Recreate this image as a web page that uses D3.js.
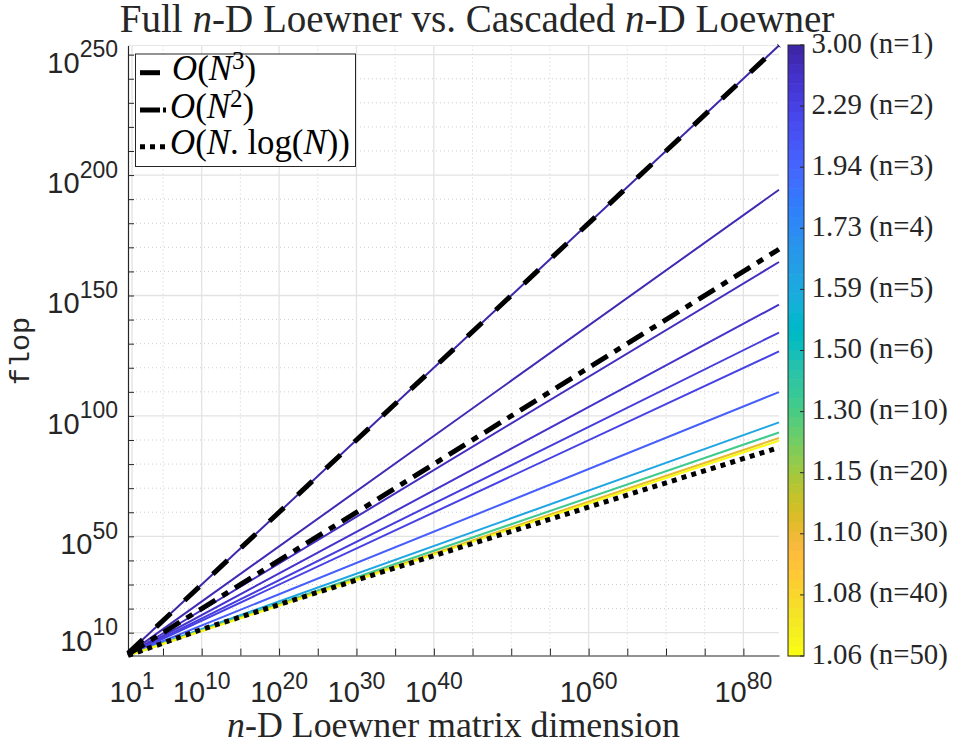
<!DOCTYPE html>
<html>
<head>
  <meta charset="utf-8">
  <script src="https://cdn.jsdelivr.net/npm/d3@7"></script>
  <style>
    body { margin: 0; background: #fff; }
    .tick-label { font-family: 'Liberation Sans', Arial, sans-serif; fill: #262626; }
    .serif { font-family: 'Liberation Serif', 'Times New Roman', serif; fill: #262626; }
  </style>
</head>
<body>
<div id="chart"></div>
<script>
  // ---- data ----
  var nValues = [1, 2, 3, 4, 5, 6, 10, 20, 30, 40, 50];
  var exponentLabels = ["3.00", "2.29", "1.94", "1.73", "1.59", "1.50", "1.30", "1.15", "1.10", "1.08", "1.06"];
  var dimRange = [3, 4e84];                 // matrix dimension N
  var flopRangeLog = [0.52, 253.8];         // log10 of flop, bottom / top
  // log10(flop) of each coloured line at the left (N=3) and right (N=4e84) end
  var startLog = [1.43, 1.09, 0.93, 0.83, 0.76, 0.72, 0.62, 0.55, 0.52, 0.51, 0.51];
  var endLog = [253.8, 193.9, 163.9, 146.2, 134.6, 126.8, 109.9, 97.3, 93.1, 90.8, 89.7];
  // reference curves as [log10 N, log10 flop]
  var cubeLog = [[0.477, 1.43], [84.6, 253.8]];
  var squareLog = [[0.477, 0.95], [84.6, 169.2]];
  var nlognLog = [[0.477, 0.52], [10, 11.36], [20, 21.66], [40, 41.96], [60, 62.14], [84.6, 86.89]];
  // ticks (exponents of ten)
  var xMajor = [1, 10, 20, 30, 40, 60, 80];
  var xMinor = [5, 15, 25, 35, 45, 50, 55, 65, 70, 75];
  var yMajor = [10, 50, 100, 150, 200, 250];
  var yMinor = [20, 30, 40, 60, 70, 80, 90, 110, 120, 130, 140, 160, 170, 180, 190, 210, 220, 230, 240];

  // MATLAB parula, 64 levels
  var parula = [[0.2422,0.1504,0.6603],[0.2504,0.1650,0.7076],[0.2578,0.1818,0.7511],[0.2647,0.1978,0.7952],[0.2706,0.2147,0.8364],[0.2751,0.2342,0.8710],[0.2783,0.2559,0.8991],[0.2803,0.2782,0.9221],[0.2813,0.3006,0.9414],[0.2810,0.3228,0.9579],[0.2795,0.3447,0.9717],[0.2760,0.3667,0.9829],[0.2699,0.3892,0.9906],[0.2602,0.4123,0.9952],[0.2440,0.4358,0.9988],[0.2206,0.4603,0.9973],[0.1963,0.4847,0.9892],[0.1834,0.5074,0.9798],[0.1786,0.5289,0.9682],[0.1764,0.5499,0.9520],[0.1687,0.5703,0.9359],[0.1540,0.5902,0.9218],[0.1460,0.6091,0.9079],[0.1380,0.6276,0.8973],[0.1248,0.6459,0.8883],[0.1113,0.6635,0.8763],[0.0952,0.6798,0.8598],[0.0689,0.6948,0.8394],[0.0297,0.7082,0.8163],[0.0036,0.7203,0.7917],[0.0067,0.7312,0.7660],[0.0433,0.7411,0.7394],[0.0964,0.7500,0.7120],[0.1408,0.7584,0.6842],[0.1717,0.7670,0.6554],[0.1938,0.7758,0.6251],[0.2161,0.7843,0.5923],[0.2470,0.7918,0.5567],[0.2906,0.7973,0.5188],[0.3406,0.8008,0.4789],[0.3909,0.8029,0.4354],[0.4456,0.8024,0.3909],[0.5044,0.7993,0.3480],[0.5616,0.7942,0.3045],[0.6174,0.7876,0.2612],[0.6720,0.7793,0.2227],[0.7242,0.7698,0.1910],[0.7738,0.7598,0.1646],[0.8203,0.7498,0.1535],[0.8634,0.7406,0.1596],[0.9035,0.7330,0.1774],[0.9393,0.7288,0.2100],[0.9728,0.7298,0.2394],[0.9956,0.7434,0.2371],[0.9970,0.7659,0.2199],[0.9952,0.7893,0.2028],[0.9892,0.8136,0.1885],[0.9786,0.8386,0.1766],[0.9676,0.8639,0.1643],[0.9610,0.8890,0.1537],[0.9597,0.9135,0.1423],[0.9628,0.9373,0.1265],[0.9691,0.9606,0.1064],[0.9769,0.9839,0.0805]];
  var parulaColors = parula.map(c => d3.rgb(c[0] * 255, c[1] * 255, c[2] * 255).formatHex());
  var parulaScale = d3.scaleQuantize().domain([0, 1]).range(parulaColors);

  var width = 954, height = 749;
  var plot = {left: 128, right: 779, top: 45.5, bottom: 655.5};

  var svg = d3.select("#chart").append("svg")
    .attr("width", width)
    .attr("height", height);

  var x = d3.scaleLog().domain(dimRange).range([plot.left, plot.right]);
  var y = d3.scaleLog().domain(flopRangeLog.map(v => Math.pow(10, v))).range([plot.bottom, plot.top]);
  var colorOf = d3.scaleLinear().domain([1, 50]).range([0, 1]);
  var p10 = k => Math.pow(10, k);

  // grid
  var grid = svg.append("g");
  grid.selectAll(".gxm").data(xMinor).join("line")
    .attr("x1", d => x(p10(d))).attr("x2", d => x(p10(d)))
    .attr("y1", plot.top).attr("y2", plot.bottom)
    .attr("stroke", "#cfcfcf").attr("stroke-dasharray", "1,3");
  grid.selectAll(".gym").data(yMinor).join("line")
    .attr("y1", d => y(p10(d))).attr("y2", d => y(p10(d)))
    .attr("x1", plot.left).attr("x2", plot.right)
    .attr("stroke", "#cfcfcf").attr("stroke-dasharray", "1,3");
  grid.selectAll(".gx").data(xMajor).join("line")
    .attr("x1", d => x(p10(d))).attr("x2", d => x(p10(d)))
    .attr("y1", plot.top).attr("y2", plot.bottom)
    .attr("stroke", "#e3e3e3").attr("stroke-width", 1.3);
  grid.selectAll(".gy").data(yMajor).join("line")
    .attr("y1", d => y(p10(d))).attr("y2", d => y(p10(d)))
    .attr("x1", plot.left).attr("x2", plot.right)
    .attr("stroke", "#e3e3e3").attr("stroke-width", 1.3);
  grid.append("line")
    .attr("x1", plot.left).attr("x2", plot.right)
    .attr("y1", plot.top).attr("y2", plot.top)
    .attr("stroke", "#e6e6e6");

  // axes
  svg.append("g")
    .attr("transform", "translate(0," + plot.bottom + ")")
    .attr("color", "#262626")
    .call(d3.axisBottom(x)
      .tickValues(xMajor.concat(xMinor).map(p10))
      .tickSize(-7).tickSizeOuter(0).tickFormat(""));
  svg.append("g")
    .attr("transform", "translate(" + plot.left + ",0)")
    .attr("color", "#262626")
    .call(d3.axisLeft(y)
      .tickValues(yMajor.concat(yMinor).map(p10))
      .tickSize(-6).tickSizeOuter(0).tickFormat(""));
  svg.selectAll(".domain").attr("stroke-width", 1.2);

  // tick labels with superscripts
  xMajor.forEach(function (k) {
    var t = svg.append("text").attr("class", "tick-label")
      .attr("x", x(p10(k))).attr("y", 701.5)
      .attr("text-anchor", "middle")
      .attr("font-size", 29);
    t.append("tspan").text("10");
    t.append("tspan").attr("dy", -13).attr("font-size", 23).text(k);
  });
  yMajor.forEach(function (k) {
    var t = svg.append("text").attr("class", "tick-label")
      .attr("x", 118).attr("y", y(p10(k)) + 18)
      .attr("text-anchor", "end")
      .attr("font-size", 29);
    t.append("tspan").text("10");
    t.append("tspan").attr("dy", -15.5).attr("font-size", 23).text(k);
  });

  function fitWidth(sel, target) {
    var w = sel.node().getComputedTextLength();
    var fs = parseFloat(sel.attr("font-size"));
    sel.attr("font-size", fs * target / w);
    return fs * target / w;
  }

  // coloured lines
  var line = d3.line().x(d => x(p10(d[0]))).y(d => y(p10(d[1])));
  var lines = nValues.map((n, i) => ({n: n, pts: [[0.477, startLog[i]], [84.6, endLog[i]]]}));
  svg.append("g").selectAll("path").data(lines).join("path")
    .attr("d", d => line(d.pts))
    .attr("fill", "none")
    .attr("stroke", d => parulaScale(colorOf(d.n)))
    .attr("stroke-width", 2);

  // reference complexity curves
  var refs = [
    {pts: cubeLog, dash: "20,18.7"},
    {pts: squareLog, dash: "19,8,7,8"},
    {pts: nlognLog, dash: "5,5.2"}
  ];
  svg.append("g").selectAll("path").data(refs).join("path")
    .attr("d", d => line(d.pts))
    .attr("fill", "none")
    .attr("stroke", "#000")
    .attr("stroke-width", 5)
    .attr("stroke-dasharray", d => d.dash);

  // legend
  var lg = svg.append("g");
  lg.append("rect")
    .attr("x", 135.5).attr("y", 54).attr("width", 220).attr("height", 112.5)
    .attr("fill", "#fff").attr("stroke", "#262626").attr("stroke-width", 1);
  var rowsY = [72.7, 110, 146.7];
  var legendDash = ["20,20", "20,3,4,20", "5,5"];
  rowsY.forEach(function (ry, i) {
    lg.append("line")
      .attr("x1", 140).attr("x2", 166).attr("y1", ry).attr("y2", ry)
      .attr("stroke", "#000").attr("stroke-width", 5)
      .attr("stroke-dasharray", legendDash[i]);
  });
  var legendTexts = [];
  rowsY.forEach(function (ry, i) {
    var t = lg.append("text").attr("class", "serif")
      .attr("x", i === 0 ? 172 : 170).attr("y", ry + 7.5)
      .attr("font-size", 25).style("fill", "#000");
    t.append("tspan").attr("font-style", "italic").text("O");
    t.append("tspan").text("(");
    t.append("tspan").attr("font-style", "italic").text("N");
    if (i < 2) {
      t.append("tspan").attr("dy", -11).attr("font-size", "0.72em").text(i === 0 ? "3" : "2");
      t.append("tspan").attr("dy", 11).text(")");
    } else {
      t.append("tspan").text(". log(");
      t.append("tspan").attr("font-style", "italic").text("N");
      t.append("tspan").text("))");
    }
    legendTexts.push(t);
  });
  var lfs = fitWidth(legendTexts[2], 180);
  legendTexts[0].attr("font-size", lfs);
  legendTexts[1].attr("font-size", lfs);

  // colorbar
  var cb = {x: 788, y: 45, w: 16, h: 611};
  var band = cb.h / parulaColors.length;
  svg.append("g").selectAll("rect").data(parulaColors).join("rect")
    .attr("x", cb.x).attr("y", (d, i) => cb.y + i * band)
    .attr("width", cb.w).attr("height", band + 0.6)
    .attr("fill", d => d);
  svg.append("rect")
    .attr("x", cb.x).attr("y", cb.y).attr("width", cb.w).attr("height", cb.h)
    .attr("fill", "none").attr("stroke", "#262626").attr("stroke-width", 1);
  var cbScale = d3.scaleLinear().domain([0, exponentLabels.length - 1]).range([cb.y, cb.y + cb.h]);
  var cbLabels = [];
  exponentLabels.forEach(function (lab, i) {
    var ty = cbScale(i);
    svg.append("line")
      .attr("x1", cb.x + cb.w - 4).attr("x2", cb.x + cb.w)
      .attr("y1", ty).attr("y2", ty)
      .attr("stroke", "#262626");
    cbLabels.push(svg.append("text").attr("class", "serif")
      .attr("x", 811.5).attr("y", ty + 7.5)
      .attr("font-size", 26)
      .text(lab + " (n=" + nValues[i] + ")"));
  });
  var cfs = fitWidth(cbLabels[0], 122);
  cbLabels.forEach(t => t.attr("font-size", cfs));

  // title and axis labels
  var title = svg.append("text").attr("class", "serif")
    .attr("x", 477).attr("y", 32).attr("text-anchor", "middle")
    .attr("font-size", 30);
  title.append("tspan").text("Full ");
  title.append("tspan").attr("font-style", "italic").text("n");
  title.append("tspan").text("-D Loewner vs. Cascaded ");
  title.append("tspan").attr("font-style", "italic").text("n");
  title.append("tspan").text("-D Loewner");
  fitWidth(title, 715);

  var xl = svg.append("text").attr("class", "serif")
    .attr("x", 453.5).attr("y", 736.5).attr("text-anchor", "middle")
    .attr("font-size", 32);
  xl.append("tspan").attr("font-style", "italic").text("n");
  xl.append("tspan").text("-D Loewner matrix dimension");
  fitWidth(xl, 453);

  svg.append("text")
    .attr("transform", "translate(29,351) rotate(-90)")
    .attr("text-anchor", "middle")
    .attr("font-family", "'Liberation Mono', monospace")
    .attr("font-size", 28.5)
    .attr("fill", "#262626")
    .text("flop");
</script>
</body>
</html>
